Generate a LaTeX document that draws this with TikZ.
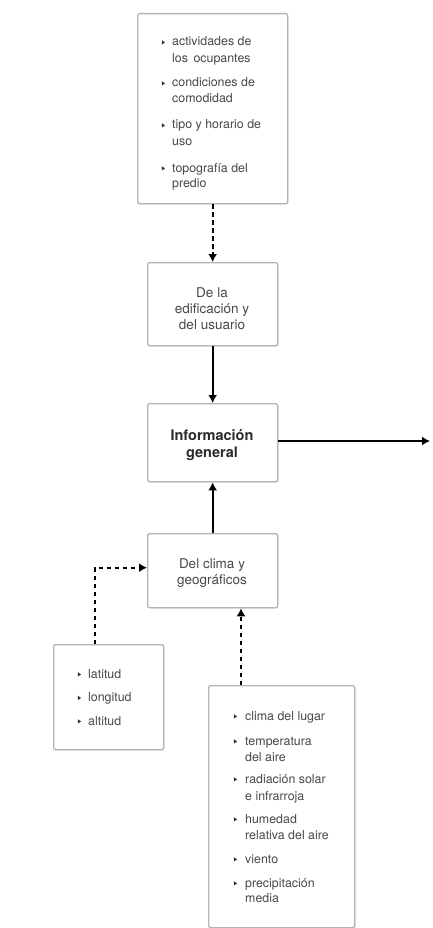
\documentclass[tikz,border=0pt]{standalone}
\usepackage{fontspec}
\setmainfont{TeX Gyre Heros}
\usetikzlibrary{arrows.meta,shadows}
\definecolor{txtcol}{HTML}{484848}
\definecolor{boldcol}{HTML}{2A2A2A}
\definecolor{framecol}{HTML}{B4B4B4}
\definecolor{bulcol}{HTML}{333333}
\tikzset{
  frame/.style={draw=framecol, line width=1.3pt, rounded corners=2pt, fill=white,
    drop shadow={opacity=0.18, shadow xshift=1pt, shadow yshift=-1pt}, anchor=north west, inner sep=0pt},
  lst/.style={anchor=base west, inner sep=0pt, text=txtcol, font=\fontsize{12.4}{15}\selectfont},
  mid/.style={anchor=base, inner sep=0pt, text=txtcol, font=\fontsize{13.5}{16}\selectfont},
  midb/.style={anchor=base, inner sep=0pt, text=boldcol, font=\fontsize{14.5}{17}\selectfont\bfseries},
  solidarrow/.style={line width=2.1pt, -{Latex[length=8pt,width=9pt]}},
  dasharrow/.style={line width=2.1pt, dash pattern=on 4.5pt off 3.5pt, -{Latex[length=8pt,width=9pt]}},
}
\newcommand\bulletmark[2]{\fill[bulcol] (#1-1.2,#2-5.8) -- (#1+2,#2-3.6) -- (#1-1.2,#2-1.4) -- cycle;}
\begin{document}
\begin{tikzpicture}[x=1pt,y=-1pt]
\useasboundingbox[fill=white] (0,0) rectangle (433,928);

% boxes
\node[frame, minimum width=150pt, minimum height=190pt] (usr) at (137,13) {};
\node[frame, minimum width=130pt, minimum height=83pt] (edif) at (147,262) {};
\node[frame, minimum width=130pt, minimum height=78pt] (info) at (147,403) {};
\node[frame, minimum width=130pt, minimum height=74pt] (clima) at (147,533) {};
\node[frame, minimum width=110pt, minimum height=105pt] (geo) at (53,644) {};
\node[frame, minimum width=146pt, minimum height=242pt] (clim) at (208,685) {};

% list of the building and its users
\bulletmark{163}{46}
\node[lst] (u1) at (172,46) {actividades de};
\node[lst] (u2) at (172,62.7) {los\, ocupantes};
\bulletmark{163}{87}
\node[lst] (u3) at (172,87) {condiciones de};
\node[lst] (u4) at (172,103) {comodidad};
\bulletmark{163}{129}
\node[lst] (u5) at (172,129) {tipo y horario de};
\node[lst] (u6) at (172,146) {uso};
\bulletmark{163}{172}
\node[lst] (u7) at (172,172) {topografía del};
\node[lst] (u8) at (172,187.5) {predio};

% central boxes
\node[mid] (e1) at (212,297) {De la};
\node[mid] (e2) at (212,313) {edificación y};
\node[mid] (e3) at (212,329) {del usuario};

\node[midb] (i1) at (212,440) {Información};
\node[midb] (i2) at (212,457) {general};

\node[mid] (c1) at (212,568) {Del clima y};
\node[mid] (c2) at (212,584) {geográficos};

% geographic data
\bulletmark{79}{678}
\node[lst] (g1) at (88,678) {latitud};
\bulletmark{79}{701.5}
\node[lst] (g2) at (88,701.5) {longitud};
\bulletmark{79}{725}
\node[lst] (g3) at (88,725) {altitud};

% climate data
\bulletmark{235}{720}
\node[lst] (k1) at (245,720) {clima del lugar};
\bulletmark{235}{745}
\node[lst] (k2) at (245,745) {temperatura};
\node[lst] (k3) at (245,761) {del aire};
\bulletmark{235}{783}
\node[lst] (k4) at (245,783) {radiación solar};
\node[lst] (k5) at (245,800) {e infrarroja};
\bulletmark{235}{823}
\node[lst] (k6) at (245,823) {humedad};
\node[lst] (k7) at (245,839) {relativa del aire};
\bulletmark{235}{863}
\node[lst] (k8) at (245,863) {viento};
\bulletmark{235}{887}
\node[lst] (k9) at (245,887) {precipitación};
\node[lst] (k10) at (245,902.5) {media};

% connectors
\coordinate (outend) at (430,441);
\coordinate (geox) at (95,0);
\coordinate (climx) at (241,0);
\draw[dasharrow] (usr.south) -- (edif.north);
\draw[solidarrow] (edif.south) -- (info.north);
\draw[solidarrow] (clima.north) -- (info.south);
\draw[solidarrow] (info.east |- outend) -- (outend);
\draw[dasharrow] (geo.north -| geox) |- ([yshift=3pt]clima.west);
\draw[dasharrow] (clim.north -| climx) -- (clima.south -| climx);
\end{tikzpicture}
\end{document}
